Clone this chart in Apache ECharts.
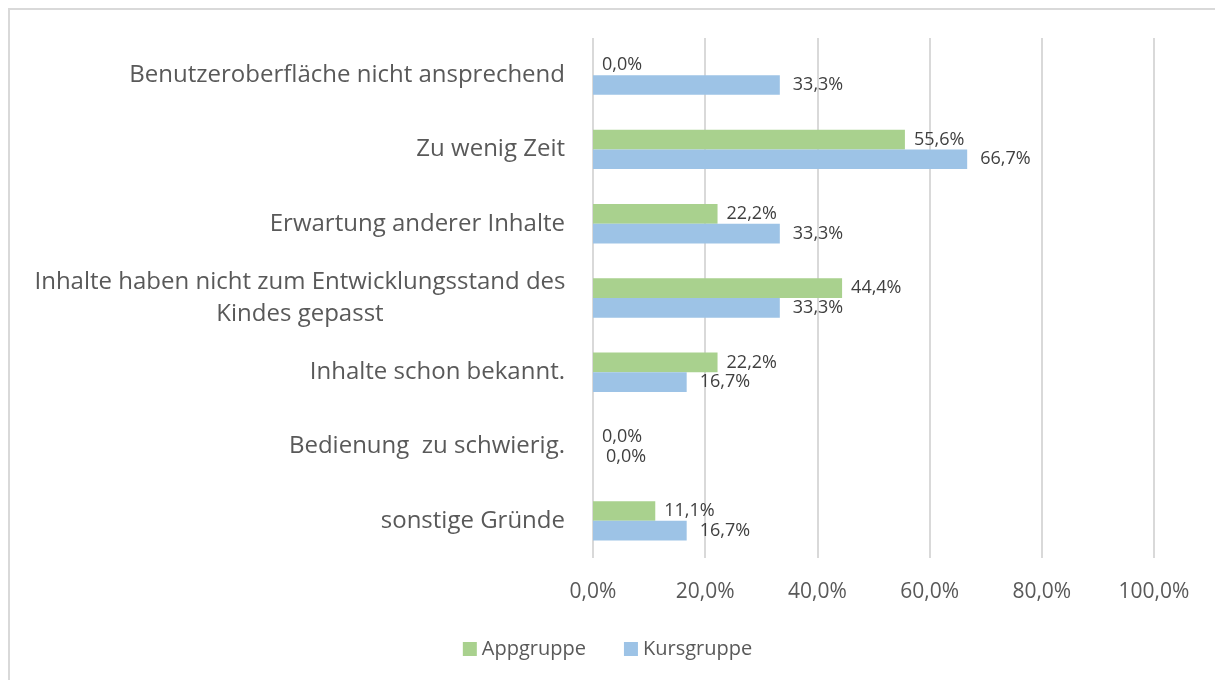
<!DOCTYPE html>
<html>
<head>
<meta charset="utf-8">
<script src="https://cdn.jsdelivr.net/npm/echarts@6/dist/echarts.min.js"></script>
<style>
  html, body { margin: 0; padding: 0; background: #fff; }
  #main { width: 1215px; height: 680px; }
</style>
</head>
<body>
<div id="main"></div>
<script>
// Gründe – von oben nach unten
var categories = [
  'Benutzeroberfläche nicht ansprechend',
  'Zu wenig Zeit',
  'Erwartung anderer Inhalte',
  'Inhalte haben nicht zum Entwicklungsstand des\nKindes gepasst',
  'Inhalte schon bekannt.',
  'Bedienung  zu schwierig.',
  'sonstige Gründe'
];
var appgruppe = [0.0, 55.6, 22.2, 44.4, 22.2, 0.0, 11.1];
var kursgruppe = [33.3, 66.7, 33.3, 33.3, 16.7, 0.0, 16.7];
var xTicks = [0, 20, 40, 60, 80, 100];

var font = '"Open Sans", "Noto Sans", sans-serif';

function pct(v) {
  return Number(v).toFixed(1).replace('.', ',') + '%';
}

var chart = echarts.init(document.getElementById('main'));

chart.setOption({
  animation: false,
  textStyle: { fontFamily: font },
  graphic: [{
    type: 'rect',
    shape: { x: 9, y: 9, width: 1300, height: 700 },
    style: { fill: 'none', stroke: '#d9d9d9', lineWidth: 2 },
    silent: true
  }],
  grid: { left: 593, right: 61, top: 38, bottom: 122 },
  legend: {
    top: 634,
    left: 'center',
    itemWidth: 14,
    itemHeight: 14,
    itemGap: 38,
    icon: 'rect',
    textStyle: { fontFamily: font, fontSize: 20, color: '#595959' },
    data: ['Appgruppe', 'Kursgruppe']
  },
  xAxis: {
    type: 'value',
    min: xTicks[0],
    max: xTicks[xTicks.length - 1],
    interval: 20,
    axisLine: { show: false },
    axisTick: { show: false },
    axisLabel: {
      margin: 24,
      fontSize: 21,
      color: '#595959',
      formatter: pct
    },
    splitLine: { lineStyle: { color: '#d9d9d9', width: 2 } }
  },
  yAxis: {
    type: 'category',
    inverse: true,
    data: categories,
    axisLine: { show: false },
    axisTick: { show: false },
    axisLabel: {
      margin: 28,
      fontSize: 24,
      lineHeight: 32,
      color: '#595959',
      formatter: function (v) {
        if (v.indexOf('\n') >= 0) return '{w|' + v + '}';
        return v;
      },
      rich: {
        w: { width: 530, align: 'center', fontSize: 24, lineHeight: 32, color: '#595959' }
      }
    }
  },
  series: [
    {
      name: 'Appgruppe',
      type: 'bar',
      data: appgruppe,
      barGap: '0%',
      barCategoryGap: '47%',
      itemStyle: { color: '#a9d18e' },
      label: {
        show: true,
        position: 'right',
        distance: 9,
        fontSize: 18,
        color: '#404040',
        formatter: function (p) { return pct(p.value); }
      }
    },
    {
      name: 'Kursgruppe',
      type: 'bar',
      data: kursgruppe,
      barGap: '0%',
      barCategoryGap: '47%',
      itemStyle: { color: '#9dc3e6' },
      label: {
        show: true,
        position: 'right',
        distance: 13,
        fontSize: 18,
        color: '#404040',
        formatter: function (p) { return pct(p.value); }
      }
    }
  ]
});
</script>
</body>
</html>
